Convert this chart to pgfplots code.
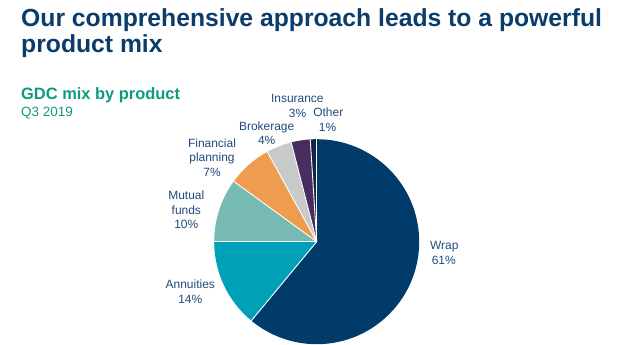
\documentclass[border=0pt]{standalone}
\usepackage{pgfplots}
\usepackage{pgfplotstable}
\pgfplotsset{compat=1.18}
\usepackage{fontspec}
\setmainfont{Liberation Sans}
\definecolor{titleblue}{HTML}{0A3D6B}
\definecolor{subteal}{HTML}{0E9A7C}
\definecolor{labelblue}{HTML}{1F4A7C}
\definecolor{s0}{HTML}{003B6A}
\definecolor{s1}{HTML}{00A1B7}
\definecolor{s2}{HTML}{77BAB4}
\definecolor{s3}{HTML}{EE9C4E}
\definecolor{s4}{HTML}{C8C9CB}
\definecolor{s5}{HTML}{4A2D5F}
\definecolor{s6}{HTML}{13263F}

\pgfplotstableread{
idx product value
0 Wrap 61
1 Annuities 14
2 Mutual 10
3 Financial 7
4 Brokerage 4
5 Insurance 3
6 Other 1
}\piedata

\begin{document}
\begin{tikzpicture}[x=1bp,y=1bp]
\path[use as bounding box] (0bp,0bp) rectangle (640bp,345bp);
\def\cum{0}
\pgfplotsforeachungrouped \i in {0,...,6}{%
  \pgfplotstablegetelem{\i}{value}\of\piedata
  \pgfmathsetmacro{\sa}{90-3.6*\cum}%
  \pgfmathsetmacro{\cum}{\cum+\pgfplotsretval}%
  \pgfmathsetmacro{\ea}{90-3.6*\cum}%
  \expandafter\xdef\csname sa\i\endcsname{\sa}%
  \expandafter\xdef\csname ea\i\endcsname{\ea}%
}
\begin{axis}[at={(316.7bp,103.3bp)}, anchor=origin, hide axis, scale only axis,
  width=205bp, height=205bp, xmin=-1, xmax=1, ymin=-1, ymax=1, clip=false]
\pgfplotsinvokeforeach{0,...,6}{%
  \fill[s#1] (axis cs:0,0) -- (axis cs:{cos(\csname sa#1\endcsname)},{sin(\csname sa#1\endcsname)})
     arc[start angle=\csname sa#1\endcsname, end angle=\csname ea#1\endcsname, radius=102.5bp] -- cycle;
}
\pgfplotsinvokeforeach{0,...,6}{%
  \draw[white, line width=0.9bp] (axis cs:0,0) -- (axis cs:{cos(\csname sa#1\endcsname)},{sin(\csname sa#1\endcsname)});
}
\end{axis}
% titles
\node[anchor=base west, inner sep=0, text=titleblue, font=\fontsize{24.8}{30}\selectfont\bfseries] at (21bp,318.5bp) {Our comprehensive approach leads to a powerful};
\node[anchor=base west, inner sep=0, text=titleblue, font=\fontsize{24.8}{30}\selectfont\bfseries] at (21bp,292bp) {product mix};
\node[anchor=base west, inner sep=0, text=subteal, font=\fontsize{16.5}{19}\selectfont\bfseries] at (21bp,245.7bp) {GDC mix by product};
\node[anchor=base west, inner sep=0, text=subteal, font=\fontsize{13.5}{16}\selectfont] at (21bp,228.3bp) {Q3 2019};
% labels
\begin{scope}[every node/.style={anchor=base, inner sep=0, text=labelblue, font=\fontsize{12}{14}\selectfont}]
\node at (297.3bp,242.7bp) {Insurance};
\node at (297.5bp,227.7bp) {3\%};
\node at (328.3bp,228bp) {Other};
\node at (327.5bp,213.3bp) {1\%};
\node at (266.7bp,214.3bp) {Brokerage};
\node at (266.7bp,200bp) {4\%};
\node at (212bp,197.3bp) {Financial};
\node at (212bp,183bp) {planning};
\node at (212bp,168.5bp) {7\%};
\node at (186.3bp,145bp) {Mutual};
\node at (186.3bp,130.5bp) {funds};
\node at (186.3bp,116bp) {10\%};
\node at (190.3bp,56.5bp) {Annuities};
\node at (190.3bp,41.7bp) {14\%};
\node at (444.3bp,95bp) {Wrap};
\node at (443.8bp,80.7bp) {61\%};
\end{scope}
\end{tikzpicture}
\end{document}
